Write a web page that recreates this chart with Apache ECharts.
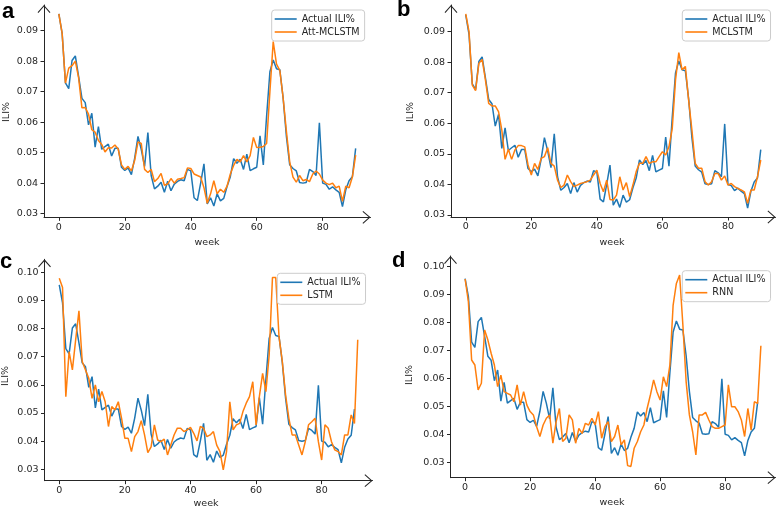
<!DOCTYPE html>
<html>
<head>
<meta charset="utf-8">
<script src="https://cdn.jsdelivr.net/npm/echarts@6.0.0/dist/echarts.min.js"></script>
<style>
html,body{margin:0;padding:0;background:#fff;}
#chart{width:777px;height:509px;}
</style>
</head>
<body>
<div id="chart"></div>
<script>
// ---------- data ----------
const actualILI = [
0.0955, 0.0891, 0.0729, 0.0710, 0.0802, 0.0817, 0.0749, 0.0678, 0.0664, 0.0591,
0.0629, 0.0518, 0.0585, 0.0511, 0.0520, 0.0528, 0.0489, 0.0514, 0.0514, 0.0452,
0.0442, 0.0450, 0.0428, 0.0482, 0.0553, 0.0510, 0.0455, 0.0566, 0.0425, 0.0381,
0.0390, 0.0403, 0.0370, 0.0406, 0.0375, 0.0397, 0.0406, 0.0411, 0.0408, 0.0445,
0.0440, 0.0352, 0.0343, 0.0400, 0.0463, 0.0332, 0.0352, 0.0325, 0.0365, 0.0342,
0.0350, 0.0389, 0.0421, 0.0480, 0.0465, 0.0478, 0.0445, 0.0495, 0.0441, 0.0447,
0.0452, 0.0555, 0.0460, 0.0620, 0.0765, 0.0804, 0.0775, 0.0772, 0.0680, 0.0553,
0.0460, 0.0448, 0.0440, 0.0402, 0.0400, 0.0402, 0.0445, 0.0438, 0.0425, 0.0598,
0.0400, 0.0396, 0.0380, 0.0388, 0.0378, 0.0370, 0.0323, 0.0378, 0.0408, 0.0421,
0.0514];

const attMCLSTM = [
0.0955, 0.0891, 0.0728, 0.0777, 0.0785, 0.0800, 0.0745, 0.0647, 0.0648, 0.0626,
0.0575, 0.0567, 0.0540, 0.0527, 0.0502, 0.0516, 0.0515, 0.0525, 0.0512, 0.0460,
0.0445, 0.0455, 0.0440, 0.0475, 0.0535, 0.0530, 0.0445, 0.0435, 0.0445, 0.0405,
0.0415, 0.0432, 0.0393, 0.0397, 0.0415, 0.0400, 0.0413, 0.0415, 0.0418, 0.0450,
0.0448, 0.0430, 0.0425, 0.0420, 0.0385, 0.0334, 0.0365, 0.0408, 0.0365, 0.0380,
0.0370, 0.0390, 0.0430, 0.0458, 0.0478, 0.0470, 0.0490, 0.0470, 0.0490, 0.0550,
0.0517, 0.0518, 0.0520, 0.0530, 0.0700, 0.0864, 0.0790, 0.0770, 0.0680, 0.0570,
0.0470, 0.0420, 0.0403, 0.0425, 0.0408, 0.0412, 0.0405, 0.0430, 0.0440, 0.0430,
0.0410, 0.0400, 0.0395, 0.0400, 0.0385, 0.0390, 0.0340, 0.0390, 0.0385, 0.0420,
0.0492];

const mclstm = [
0.0958, 0.0900, 0.0725, 0.0707, 0.0796, 0.0809, 0.0742, 0.0665, 0.0657, 0.0657,
0.0638, 0.0578, 0.0482, 0.0515, 0.0482, 0.0513, 0.0527, 0.0527, 0.0523, 0.0464,
0.0431, 0.0469, 0.0449, 0.0485, 0.0491, 0.0520, 0.0469, 0.0460, 0.0414, 0.0390,
0.0398, 0.0431, 0.0409, 0.0393, 0.0398, 0.0403, 0.0406, 0.0409, 0.0414, 0.0431,
0.0447, 0.0403, 0.0376, 0.0414, 0.0351, 0.0349, 0.0365, 0.0425, 0.0382, 0.0406,
0.0360, 0.0398, 0.0442, 0.0469, 0.0469, 0.0491, 0.0469, 0.0474, 0.0474, 0.0491,
0.0507, 0.0496, 0.0523, 0.0583, 0.0742, 0.0831, 0.0775, 0.0786, 0.0676, 0.0578,
0.0469, 0.0453, 0.0453, 0.0409, 0.0398, 0.0409, 0.0436, 0.0436, 0.0414, 0.0428,
0.0398, 0.0403, 0.0393, 0.0387, 0.0382, 0.0376, 0.0338, 0.0382, 0.0382, 0.0425,
0.0480];

const lstm = [
0.0979, 0.0946, 0.0558, 0.0718, 0.0653, 0.0760, 0.0863, 0.0683, 0.0653, 0.0623,
0.0552, 0.0600, 0.0540, 0.0576, 0.0540, 0.0452, 0.0523, 0.0511, 0.0540, 0.0481,
0.0410, 0.0410, 0.0363, 0.0416, 0.0434, 0.0473, 0.0422, 0.0359, 0.0380, 0.0458,
0.0404, 0.0398, 0.0407, 0.0351, 0.0386, 0.0422, 0.0446, 0.0446, 0.0434, 0.0440,
0.0449, 0.0428, 0.0401, 0.0452, 0.0446, 0.0416, 0.0422, 0.0434, 0.0386, 0.0363,
0.0298, 0.0363, 0.0540, 0.0440, 0.0458, 0.0463, 0.0505, 0.0535, 0.0558, 0.0611,
0.0458, 0.0558, 0.0641, 0.0576, 0.0706, 0.0981, 0.0981, 0.0771, 0.0683, 0.0564,
0.0481, 0.0422, 0.0422, 0.0386, 0.0351, 0.0398, 0.0458, 0.0469, 0.0481, 0.0398,
0.0333, 0.0458, 0.0446, 0.0398, 0.0369, 0.0363, 0.0351, 0.0422, 0.0422, 0.0493,
0.0463, 0.0760];

const rnn = [
0.0954, 0.0873, 0.0665, 0.0647, 0.0558, 0.0582, 0.0772, 0.0736, 0.0689, 0.0647,
0.0570, 0.0611, 0.0552, 0.0546, 0.0540, 0.0516, 0.0576, 0.0504, 0.0552, 0.0504,
0.0481, 0.0469, 0.0427, 0.0392, 0.0433, 0.0457, 0.0469, 0.0368, 0.0445, 0.0492,
0.0374, 0.0386, 0.0469, 0.0451, 0.0368, 0.0421, 0.0403, 0.0439, 0.0433, 0.0457,
0.0433, 0.0481, 0.0386, 0.0427, 0.0445, 0.0374, 0.0392, 0.0433, 0.0362, 0.0380,
0.0288, 0.0285, 0.0350, 0.0374, 0.0409, 0.0433, 0.0492, 0.0540, 0.0594, 0.0552,
0.0522, 0.0605, 0.0570, 0.0647, 0.0861, 0.0938, 0.0968, 0.0790, 0.0588, 0.0469,
0.0409, 0.0326, 0.0469, 0.0469, 0.0478, 0.0451, 0.0427, 0.0421, 0.0421, 0.0427,
0.0433, 0.0576, 0.0498, 0.0498, 0.0481, 0.0451, 0.0392, 0.0492, 0.0415, 0.0516,
0.0510, 0.0716];

const xTicks = [0, 20, 40, 60, 80];
const yTicksTop = [0.03, 0.04, 0.05, 0.06, 0.07, 0.08, 0.09];
const yTicksBottom = [0.03, 0.04, 0.05, 0.06, 0.07, 0.08, 0.09, 0.10];
const modelNames = ['Att-MCLSTM', 'MCLSTM', 'LSTM', 'RNN'];
const modelData = [attMCLSTM, mclstm, lstm, rnn];
const panelLetters = ['a', 'b', 'c', 'd'];

// ---------- layout / style ----------
const BLUE = '#1f77b4', ORANGE = '#ff7f0e', INK = '#262626';
const ARROW = 'path://M0,7.4 L6.5,0 L13,7.4 L12.2,8.1 L6.5,1.6 L0.8,8.1 Z';
const FONT = 'DejaVu Sans';

const grids = [
  {left: 44,    top: 5,   width: 326.5, height: 212.3},
  {left: 451,   top: 5,   width: 324.5, height: 212},
  {left: 44.5,  top: 259.3, width: 328, height: 221.4},
  {left: 450.5, top: 256, width: 325,   height: 221.7}
];
const xRanges = [[-4.5, 94.5], [-4.5, 94.5], [-4.5, 95.5], [-4.5, 95.5]];
const yRanges = [[0.0288, 0.0984], [0.02935, 0.0987], [0.02595, 0.1046], [0.0245, 0.1036]];
const yTickSets = [yTicksTop, yTicksTop, yTicksBottom, yTicksBottom];
const legendPos = [
  {left: 271.7, top: 10},
  {left: 682.3, top: 10},
  {left: 277.3, top: 273.3},
  {left: 682.3, top: 270.7}
];

function axisLineCfg() {
  return {show: true, onZero: false, lineStyle: {color: INK, width: 1},
          symbol: ['none', ARROW], symbolSize: [13, 8], symbolOffset: [0, -4]};
}

const xAxes = [], yAxes = [], series = [], legends = [];
for (let i = 0; i < 4; i++) {
  xAxes.push({
    type: 'value', gridIndex: i, min: xRanges[i][0], max: xRanges[i][1],
    splitLine: {show: false}, axisLine: axisLineCfg(),
    axisTick: {show: true, length: 3.5, lineStyle: {color: INK}, customValues: xTicks},
    axisLabel: {customValues: xTicks, margin: 5, fontSize: 9.5, color: INK, fontFamily: FONT,
                formatter: v => String(Math.round(v))}
  });
  yAxes.push({
    type: 'value', gridIndex: i, min: yRanges[i][0], max: yRanges[i][1],
    splitLine: {show: false}, axisLine: axisLineCfg(),
    axisTick: {show: true, length: 3.5, lineStyle: {color: INK}, customValues: yTickSets[i]},
    axisLabel: {customValues: yTickSets[i], margin: 6, fontSize: 9.5, color: INK, fontFamily: FONT,
                formatter: v => v.toFixed(2)}
  });
  series.push({
    name: 'Actual ILI%', type: 'line', xAxisIndex: i, yAxisIndex: i, symbol: 'none',
    lineStyle: {color: BLUE, width: 1.5}, itemStyle: {color: BLUE}, z: 2, animation: false,
    data: actualILI.map((v, k) => [k, v])
  });
  series.push({
    name: modelNames[i], type: 'line', xAxisIndex: i, yAxisIndex: i, symbol: 'none',
    lineStyle: {color: ORANGE, width: 1.5}, itemStyle: {color: ORANGE}, z: 3, animation: false,
    data: modelData[i].map((v, k) => [k, v])
  });
  legends.push({
    data: ['Actual ILI%', modelNames[i]], orient: 'vertical',
    left: legendPos[i].left, top: legendPos[i].top,
    backgroundColor: 'rgba(255,255,255,0.85)', borderColor: '#cccccc', borderWidth: 1, borderRadius: 3,
    padding: [4, 5, 4, 3], itemGap: 3, itemWidth: 22, itemHeight: 1.6, icon: 'rect',
    selectedMode: false,
    textStyle: {fontSize: 9.6, color: INK, fontFamily: FONT}
  });
}

const letterPos = [[2, 12], [397, 10], [0, 262], [392, 261]];
const yNamePos = [[7, 112], [411, 112], [6, 376], [410, 375]];
const xNamePos = [[207, 243], [612, 242.5], [206, 504], [612, 502.5]];
const graphics = [];
for (let i = 0; i < 4; i++) {
  graphics.push({type: 'text', x: letterPos[i][0], y: letterPos[i][1],
    style: {text: panelLetters[i], font: 'bold 22px "Liberation Sans", Arial, sans-serif',
            fill: '#000', align: 'left', verticalAlign: 'middle'}});
  graphics.push({type: 'text', x: yNamePos[i][0], y: yNamePos[i][1], rotation: Math.PI / 2,
    style: {text: 'ILI%', font: '9.5px "DejaVu Sans"', fill: INK, align: 'center', verticalAlign: 'middle'}});
  graphics.push({type: 'text', x: xNamePos[i][0], y: xNamePos[i][1],
    style: {text: 'week', font: '9.5px "DejaVu Sans"', fill: INK, align: 'center', verticalAlign: 'middle'}});
}

const chart = echarts.init(document.getElementById('chart'), null, {renderer: 'canvas'});
chart.setOption({
  animation: false,
  backgroundColor: '#ffffff',
  grid: grids.map(g => Object.assign({containLabel: false}, g)),
  xAxis: xAxes,
  yAxis: yAxes,
  legend: legends,
  series: series,
  graphic: graphics
});
</script>
</body>
</html>
